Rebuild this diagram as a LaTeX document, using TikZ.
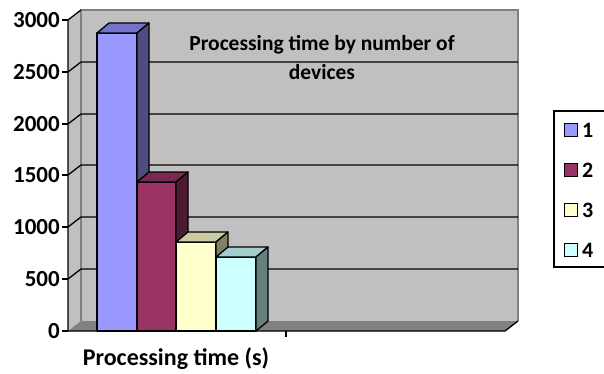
\documentclass[tikz,border=0pt]{standalone}
\usepackage{fontspec}
\setmainfont{Carlito}
\usepackage{tikz}
\definecolor{wall}{HTML}{C0C0C0}
\definecolor{floorgray}{HTML}{808080}
\definecolor{blueF}{HTML}{9999FF}
\definecolor{blueT}{HTML}{7373CC}
\definecolor{blueS}{HTML}{4D4D80}
\definecolor{plumF}{HTML}{993366}
\definecolor{plumT}{HTML}{7A2952}
\definecolor{plumS}{HTML}{4D1A33}
\definecolor{ivoryF}{HTML}{FFFFCC}
\definecolor{ivoryT}{HTML}{CCCCA3}
\definecolor{ivoryS}{HTML}{808066}
\definecolor{aquaF}{HTML}{CCFFFF}
\definecolor{aquaT}{HTML}{A3CCCC}
\definecolor{aquaS}{HTML}{668080}

\begin{document}
\begin{tikzpicture}[x=1pt, y=-1pt]
\tikzstyle{grid} = [line width=1.3pt, black]
\tikzstyle{barface} = [draw=black, line width=1.3pt, line join=round]
\tikzstyle{ylab} = [anchor=east, font=\bfseries\fontsize{23}{23}\selectfont, inner sep=0pt]
\tikzstyle{legbox} = [draw=black, line width=1.3pt, minimum size=13pt, inner sep=0pt]
\tikzstyle{leglab} = [anchor=west, font=\bfseries\fontsize{22}{22}\selectfont, inner sep=0pt]

\useasboundingbox (0,0) rectangle (604,373);

% walls and floor
\fill [wall] (81,10) rectangle (518,321);
\fill [wall] (68,20) -- (81,10) -- (81,321) -- (68,331) -- cycle;
\fill [floorgray] (68,331) -- (81,321) -- (518,321) -- (505,331) -- cycle;
\draw [floorgray, line width=1.3pt] (81,321) -- (81,10) -- (518,10) -- (518,321);
\draw [floorgray, line width=1pt] (81,321) -- (518,321);

% grid lines
\draw [grid] (68,279) -- (81,269) -- (518,269);
\draw [grid] (68,227) -- (81,217) -- (518,217);
\draw [grid] (68,175) -- (81,165) -- (518,165);
\draw [grid] (68,124) -- (81,114) -- (518,114);
\draw [grid] (68,72) -- (81,62) -- (518,62);
\draw [grid] (68,20) -- (81,10);

% bars
\filldraw [barface, fill=blueF] (97,33) rectangle (137,331);
\filldraw [barface, fill=blueT] (97,33) -- (109,23) -- (149,23) -- (137,33) -- cycle;
\filldraw [barface, fill=blueS] (137,33) -- (149,23) -- (149,321) -- (137,331) -- cycle;

\filldraw [barface, fill=plumF] (137,182) rectangle (176,331);
\filldraw [barface, fill=plumT] (137,182) -- (149,172) -- (188,172) -- (176,182) -- cycle;
\filldraw [barface, fill=plumS] (176,182) -- (188,172) -- (188,321) -- (176,331) -- cycle;

\filldraw [barface, fill=ivoryF] (176,242) rectangle (216,331);
\filldraw [barface, fill=ivoryT] (176,242) -- (188,232) -- (228,232) -- (216,242) -- cycle;
\filldraw [barface, fill=ivoryS] (216,242) -- (228,232) -- (228,321) -- (216,331) -- cycle;

\filldraw [barface, fill=aquaF] (216,257) rectangle (256,331);
\filldraw [barface, fill=aquaT] (216,257) -- (228,247) -- (268,247) -- (256,257) -- cycle;
\filldraw [barface, fill=aquaS] (256,257) -- (268,247) -- (268,321) -- (256,331) -- cycle;

% axes
\draw [grid] (68,20) -- (68,331) -- (505,331) -- (518,321);
\draw [grid] (62,20) -- (68,20);
\draw [grid] (62,72) -- (68,72);
\draw [grid] (62,124) -- (68,124);
\draw [grid] (62,175) -- (68,175);
\draw [grid] (62,227) -- (68,227);
\draw [grid] (62,279) -- (68,279);
\draw [grid] (62,331) -- (68,331);
\draw [grid] (286,331) -- (286,337);

\node [ylab] (y3000) at (60,20) {3000};
\node [ylab] (y2500) at (60,72) {2500};
\node [ylab] (y2000) at (60,124) {2000};
\node [ylab] (y1500) at (60,175) {1500};
\node [ylab] (y1000) at (60,227) {1000};
\node [ylab] (y500) at (60,279) {500};
\node [ylab] (y0) at (60,331) {0};

\node [align=center, font=\bfseries\fontsize{21.5}{29}\selectfont] (title) at (322,58) {Processing time by number of\\devices};
\node [font=\bfseries\fontsize{24}{24}\selectfont] (xlabel) at (176,359) {Processing time (s)};

% legend
\draw [black, line width=1.3pt, fill=white] (554,111) rectangle (612,267);
\node [legbox, fill=blueF] (k1) at (571,130) {};
\node [legbox, fill=plumF] (k2) at (571,170) {};
\node [legbox, fill=ivoryF] (k3) at (571,210) {};
\node [legbox, fill=aquaF] (k4) at (571,250) {};
\node [leglab] (l1) at (582,130) {1};
\node [leglab] (l2) at (582,170) {2};
\node [leglab] (l3) at (582,210) {3};
\node [leglab] (l4) at (582,250) {4};
\end{tikzpicture}
\end{document}
